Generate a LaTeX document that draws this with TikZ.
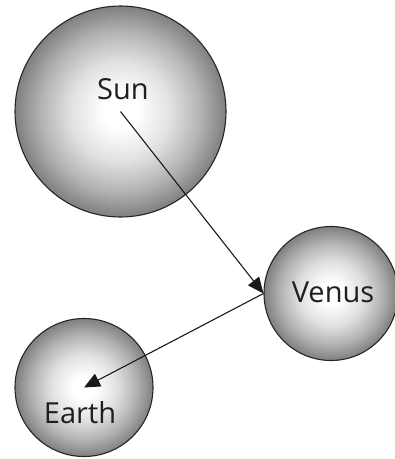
\documentclass[tikz,border=0pt]{standalone}
\usepackage{fontspec}
\setmainfont{Open Sans}
\usetikzlibrary{arrows.meta}
\pgfdeclareradialshading{ballshade}{\pgfpoint{0bp}{0bp}}{color(0bp)=(white); color(4bp)=(white); color(12bp)=(black!12); color(19bp)=(black!30); color(25bp)=(black!50); color(50bp)=(black!50)}
\begin{document}
\begin{tikzpicture}[x=1pt,y=-1pt,
  planet/.style={circle,draw=black!85,line width=1.1pt,shading=ballshade,inner sep=0pt},
  lbl/.style={font=\fontsize{29}{31}\selectfont,text=black!88,inner sep=0pt},
  link/.style={line width=1.1pt,draw=black!90,-{Triangle[length=16pt,width=14pt]}}]
\useasboundingbox (0,0) rectangle (395,459);
\node[planet,minimum size=211pt] (sun) at (120.5,111.5) {};
\node[planet,minimum size=134pt] (venus) at (331,293.5) {};
\node[planet,minimum size=138pt] (earth) at (84,387.5) {};
\node[lbl] (sunlbl) at (123,89) {Sun};
\node[lbl] (venuslbl) at (333,292) {Venus};
\node[lbl] (earthlbl) at (80,413) {Earth};
\draw[link] (sun.center) -- (venus.west);
\draw[link] (venus.west) -- (earth.center);
\end{tikzpicture}
\end{document}
